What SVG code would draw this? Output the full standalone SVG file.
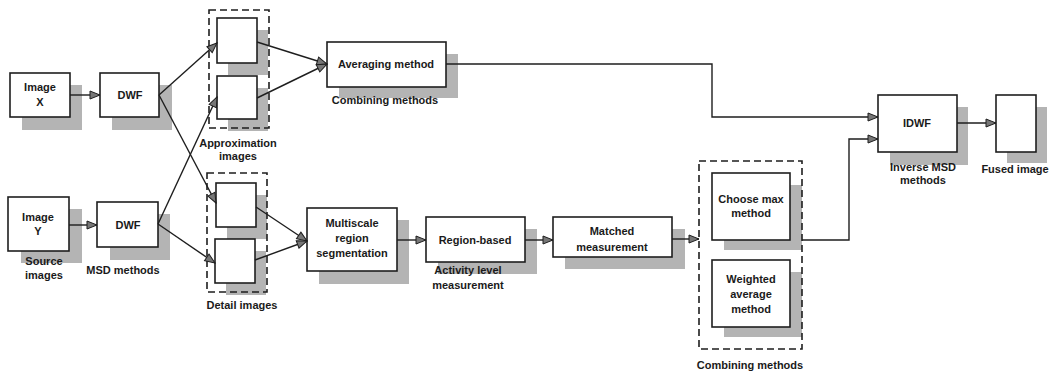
<svg xmlns="http://www.w3.org/2000/svg" width="1052" height="373" viewBox="0 0 1052 373">
<style>
.box{fill:#fff;stroke:#1e1e1e;stroke-width:1.6}
.sh{fill:#b4b4b4}
.dash{fill:none;stroke:#1e1e1e;stroke-width:1.6;stroke-dasharray:7,4}
.t{font-family:"Liberation Sans",Arial,sans-serif;font-size:11px;font-weight:bold;fill:#1a1a1a;text-anchor:middle}
.c{fill:none;stroke:#1e1e1e;stroke-width:1.4}
</style>
<defs>
<marker id="ah" markerUnits="userSpaceOnUse" markerWidth="12" markerHeight="10" refX="11" refY="5" orient="auto">
<path d="M1,1 L11,5 L1,9 Z" fill="#777" stroke="#1e1e1e" stroke-width="1"/>
</marker>
</defs>
<rect width="1052" height="373" fill="#fff"/>

<g id="image-x">
<rect class="sh" x="22" y="85" width="60" height="45"/>
<rect class="box" x="10" y="73" width="60" height="44"/>
<text class="t" x="40" y="91">Image</text>
<text class="t" x="40" y="106">X</text>
</g>
<g id="image-y">
<rect class="sh" x="21" y="209" width="61" height="54"/>
<rect class="box" x="8" y="197" width="61" height="54"/>
<text class="t" x="38" y="221">Image</text>
<text class="t" x="38" y="235">Y</text>
<text class="t" x="44" y="265">Source</text>
<text class="t" x="44" y="279">images</text>
</g>
<g id="dwf-x">
<rect class="sh" x="112" y="85" width="60" height="45"/>
<rect class="box" x="100" y="73" width="59" height="44"/>
<text class="t" x="130" y="99">DWF</text>
</g>
<g id="dwf-y">
<rect class="sh" x="110" y="214" width="60" height="46"/>
<rect class="box" x="97" y="202" width="61" height="45"/>
<text class="t" x="128" y="229">DWF</text>
<text class="t" x="123" y="274">MSD methods</text>
</g>
<g id="approximation-images">
<rect class="sh" x="228" y="30" width="40" height="45"/>
<rect class="sh" x="228" y="88" width="40" height="43"/>
<rect class="dash" x="209" y="10" width="60" height="118"/>
<rect class="box" x="217" y="18" width="40" height="45"/>
<rect class="box" x="217" y="76" width="40" height="43"/>
<text class="t" x="238" y="147">Approximation</text>
<text class="t" x="238" y="160">images</text>
</g>
<g id="detail-images">
<rect class="sh" x="227" y="195" width="40" height="44"/>
<rect class="sh" x="226" y="251" width="40" height="44"/>
<rect class="dash" x="207" y="173" width="60" height="119"/>
<rect class="box" x="216" y="183" width="40" height="44"/>
<rect class="box" x="215" y="239" width="40" height="44"/>
<text class="t" x="242" y="309">Detail images</text>
</g>
<g id="averaging">
<rect class="sh" x="339" y="54" width="119" height="44"/>
<rect class="box" x="327" y="42" width="119" height="45"/>
<text class="t" x="386" y="68">Averaging method</text>
<text class="t" x="385" y="104">Combining methods</text>
</g>
<g id="multiscale">
<rect class="sh" x="319" y="220" width="90" height="64"/>
<rect class="box" x="307" y="208" width="90" height="63"/>
<text class="t" x="352" y="227">Multiscale</text>
<text class="t" x="352" y="242">region</text>
<text class="t" x="352" y="257">segmentation</text>
</g>
<g id="region-based">
<rect class="sh" x="438" y="229" width="99" height="45"/>
<rect class="box" x="426" y="217" width="99" height="45"/>
<text class="t" x="475" y="244">Region-based</text>
<text class="t" x="468" y="274">Activity level</text>
<text class="t" x="468" y="289">measurement</text>
</g>
<g id="matched">
<rect class="sh" x="565" y="229" width="120" height="40"/>
<rect class="box" x="553" y="217" width="119" height="40"/>
<text class="t" x="612" y="235">Matched</text>
<text class="t" x="612" y="251">measurement</text>
</g>
<g id="combining-methods">
<rect class="sh" x="724" y="185" width="78" height="65"/>
<rect class="sh" x="724" y="272" width="78" height="65"/>
<rect class="dash" x="699" y="161" width="103" height="188"/>
<rect class="box" x="712" y="173" width="78" height="67"/>
<text class="t" x="751" y="203">Choose max</text>
<text class="t" x="751" y="217">method</text>
<rect class="box" x="712" y="260" width="78" height="67"/>
<text class="t" x="751" y="283">Weighted</text>
<text class="t" x="751" y="298">average</text>
<text class="t" x="751" y="313">method</text>
<text class="t" x="750" y="369">Combining methods</text>
</g>
<g id="idwf">
<rect class="sh" x="890" y="107" width="78" height="58"/>
<rect class="box" x="878" y="95" width="79" height="57"/>
<text class="t" x="917" y="127">IDWF</text>
<text class="t" x="923" y="171">Inverse MSD</text>
<text class="t" x="923" y="184">methods</text>
</g>
<g id="fused-image">
<rect class="sh" x="1007" y="107" width="40" height="56"/>
<rect class="box" x="996" y="95" width="40" height="57"/>
<text class="t" x="1015" y="173">Fused image</text>
</g>

<g id="connectors">
<line class="c" x1="70" y1="95" x2="100" y2="95" marker-end="url(#ah)"/>
<line class="c" x1="69" y1="225" x2="97" y2="225" marker-end="url(#ah)"/>
<line class="c" x1="159" y1="95" x2="217" y2="43" marker-end="url(#ah)"/>
<line class="c" x1="159" y1="95" x2="216" y2="203" marker-end="url(#ah)"/>
<line class="c" x1="158" y1="224" x2="217" y2="97" marker-end="url(#ah)"/>
<line class="c" x1="158" y1="224" x2="215" y2="263" marker-end="url(#ah)"/>
<line class="c" x1="257" y1="42" x2="327" y2="64" marker-end="url(#ah)"/>
<line class="c" x1="257" y1="98" x2="327" y2="64" marker-end="url(#ah)"/>
<line class="c" x1="256" y1="207" x2="307" y2="241" marker-end="url(#ah)"/>
<line class="c" x1="255" y1="260" x2="307" y2="241" marker-end="url(#ah)"/>
<line class="c" x1="397" y1="240" x2="426" y2="240" marker-end="url(#ah)"/>
<line class="c" x1="525" y1="240" x2="553" y2="240" marker-end="url(#ah)"/>
<line class="c" x1="672" y1="239" x2="699" y2="239" marker-end="url(#ah)"/>
<polyline class="c" points="446,64 712,64 712,117 878,117" marker-end="url(#ah)"/>
<polyline class="c" points="802,240 849,240 849,139 878,139" marker-end="url(#ah)"/>
<line class="c" x1="957" y1="123" x2="996" y2="123" marker-end="url(#ah)"/>
</g>
</svg>
